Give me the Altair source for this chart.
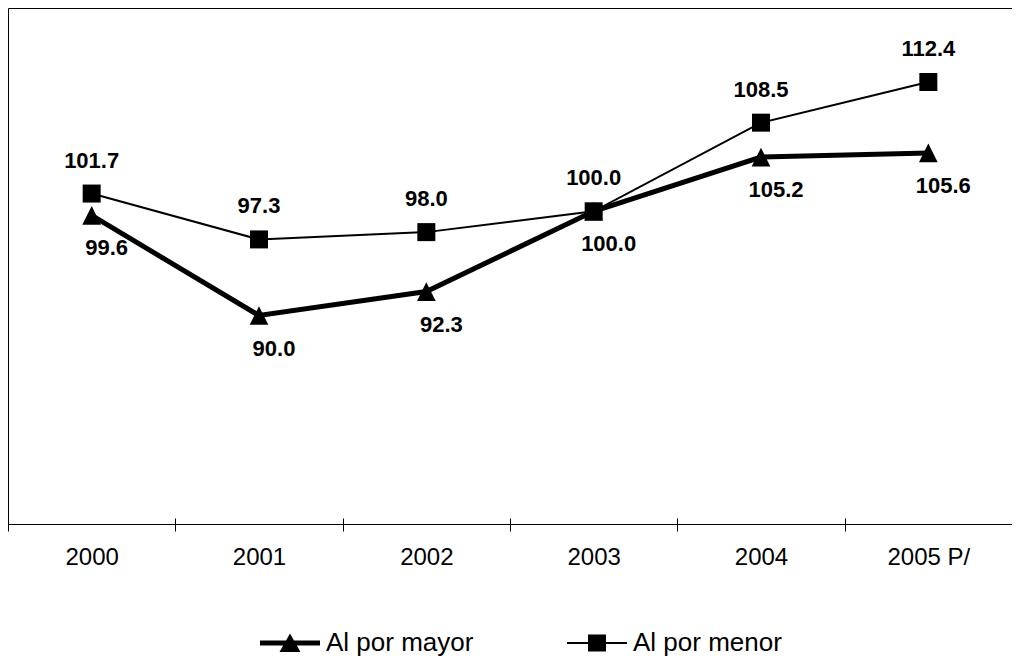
import altair as alt
import pandas as pd

# ---- data ----
years = ["2000", "2001", "2002", "2003", "2004", "2005 P/"]
series = ["Al por mayor", "Al por menor"]
mayor = [99.6, 90.0, 92.3, 100.0, 105.2, 105.6]
menor = [101.7, 97.3, 98.0, 100.0, 108.5, 112.4]

df = pd.DataFrame({
    "year": years * 2,
    "value": mayor + menor,
    "series": [series[0]] * len(years) + [series[1]] * len(years),
})

FONT = "Liberation Sans"
TRI = "M0,-1L1,1L-1,1Z"
# legend symbols: a line with the marker in its middle
LEG_MAYOR = "M-3,-0.25H3V0.25H-3Z M0,-0.95L1.05,0.9L-1.05,0.9Z"
LEG_MENOR = "M-3,-0.1H3V0.1H-3Z M-0.9,-0.85H0.9V0.85H-0.9Z"

scale_x = alt.Scale(type="band", paddingInner=0, paddingOuter=0)
x = alt.X(
    "year:N",
    sort=years,
    scale=scale_x,
    axis=alt.Axis(
        title=None, labelAngle=0, tickBand="extent", tickSize=7,
        labelFontSize=24, labelFont=FONT, labelColor="black",
        domainColor="black", tickColor="black", labelPadding=14,
        domainWidth=1, tickWidth=1, orient="bottom",
    ),
)
# upper half of the crossing ticks
x_up = alt.X(
    "year:N",
    sort=years,
    scale=scale_x,
    axis=alt.Axis(
        title=None, orient="bottom", offset=-6, tickSize=6, labels=False,
        domain=False, tickBand="extent", tickColor="black", tickWidth=1,
    ),
)
y = alt.Y("value:Q", scale=alt.Scale(domain=[70, 119.5], nice=False, zero=False), axis=None)

base = alt.Chart(df).encode(x=x, y=y)

lines = base.mark_line(color="black").encode(
    strokeWidth=alt.StrokeWidth("series:N", scale=alt.Scale(domain=series, range=[5, 2]), legend=None),
)

points = base.mark_point(filled=True, color="black", opacity=1).encode(
    shape=alt.Shape("series:N", scale=alt.Scale(domain=series, range=[TRI, "square"]), legend=None),
    size=alt.Size("series:N", scale=alt.Scale(domain=series, range=[350, 324]), legend=None),
)

txt_menor = base.transform_filter(alt.datum.series == series[1]).mark_text(
    fontSize=22, fontWeight="bold", font=FONT, dy=-33, dx=0, color="black"
).encode(text=alt.Text("value:Q", format=".1f"))

txt_mayor = base.transform_filter(alt.datum.series == series[0]).mark_text(
    fontSize=22, fontWeight="bold", font=FONT, dy=33, dx=15, color="black"
).encode(text=alt.Text("value:Q", format=".1f"))

main = alt.layer(lines, points, txt_menor, txt_mayor)

# empty layer that only carries the legend (line + marker symbols) and the upper tick halves
legend_layer = alt.Chart(df).transform_filter("false").mark_point(
    filled=True, color="black", opacity=1
).encode(
    x=x_up,
    y=y,
    shape=alt.Shape(
        "series:N",
        scale=alt.Scale(domain=series, range=[LEG_MAYOR, LEG_MENOR]),
        legend=alt.Legend(
            title=None, orient="none", legendX=269, legendY=622,
            direction="horizontal", symbolSize=400, labelFontSize=26,
            labelFont=FONT, labelColor="black", labelOffset=23,
            columnPadding=93, padding=0, symbolStrokeWidth=0,
            symbolFillColor="black", symbolOpacity=1,
        ),
    ),
)

chart = alt.layer(main, legend_layer).resolve_scale(
    shape="independent"
).resolve_axis(x="independent").properties(
    width=1004, height=516, autosize="none",
    padding={"left": 0, "top": 0, "right": 0, "bottom": 137},
).configure_view(stroke="black", strokeWidth=1)

chart.save("out.html", embed_options={"renderer": "svg", "actions": False})
